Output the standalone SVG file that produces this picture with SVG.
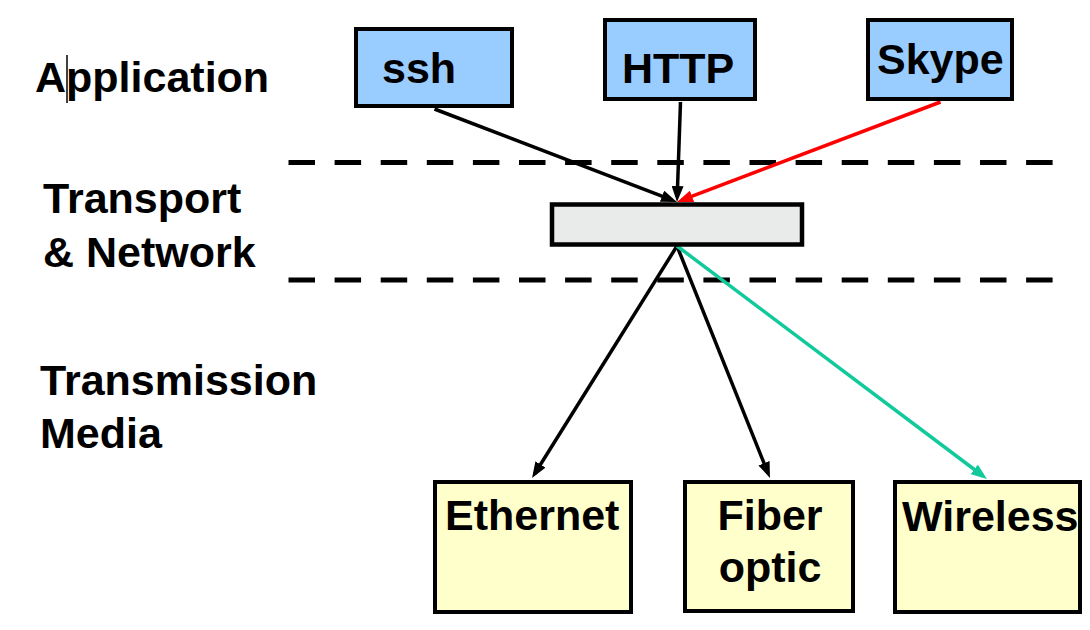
<svg xmlns="http://www.w3.org/2000/svg" width="1090" height="630" viewBox="0 0 1090 630">
  <style>
    .lbl { font-family: "Liberation Sans", Arial, sans-serif; font-weight: bold; font-size: 43px; fill: #000; }
    .app { fill: #99ccff; stroke: #000; stroke-width: 4; }
    .media { fill: #ffffcc; stroke: #000; stroke-width: 4; }
    .tn { fill: #e9eaea; stroke: #000; stroke-width: 4.5; }
    .dash { stroke: #000; stroke-width: 5; stroke-dasharray: 26.5 19.6; fill: none; }
    .conn { fill: none; stroke-width: 3.5; }
  </style>
  <defs>
    <marker id="ahBlack" markerUnits="userSpaceOnUse" markerWidth="16" markerHeight="12" viewBox="0 0 16 12" refX="11" refY="6" orient="auto">
      <path d="M0,0 L16,6 L0,12 z" fill="#000"/>
    </marker>
    <marker id="ahRed" markerUnits="userSpaceOnUse" markerWidth="16" markerHeight="12" viewBox="0 0 16 12" refX="11" refY="6" orient="auto">
      <path d="M0,0 L16,6 L0,12 z" fill="#ff0000"/>
    </marker>
    <marker id="ahGreen" markerUnits="userSpaceOnUse" markerWidth="16" markerHeight="12" viewBox="0 0 16 12" refX="11" refY="6" orient="auto">
      <path d="M0,0 L16,6 L0,12 z" fill="#11c99b"/>
    </marker>
  </defs>
  <rect width="1090" height="630" fill="#fff"/>

  <g id="layer-labels">
    <text class="lbl" x="35" y="92">Application</text>
    <line x1="67" y1="55" x2="67" y2="103" stroke="#000" stroke-width="1.5"/>
    <text class="lbl" x="43" y="213">Transport</text>
    <text class="lbl" x="43" y="267">&amp; Network</text>
    <text class="lbl" x="40" y="395">Transmission</text>
    <text class="lbl" x="40" y="448">Media</text>
  </g>

  <g id="separators">
    <line class="dash" x1="288.5" y1="162.5" x2="1055" y2="162.5"/>
    <line class="dash" x1="288.5" y1="280" x2="1055" y2="280"/>
  </g>

  <g id="connectors">
    <line class="conn" stroke="#000" x1="434.5" y1="109" x2="672.3" y2="200.2" marker-end="url(#ahBlack)"/>
    <line class="conn" stroke="#000" x1="680.5" y1="102" x2="677.2" y2="197" marker-end="url(#ahBlack)"/>
    <line class="conn" stroke="#ff0000" x1="940.5" y1="102" x2="681.7" y2="200.2" marker-end="url(#ahRed)"/>
    <line class="conn" stroke="#000" x1="677" y1="246" x2="534.7" y2="473.8" marker-end="url(#ahBlack)"/>
    <line class="conn" stroke="#000" x1="677" y1="246" x2="768.1" y2="473.4" marker-end="url(#ahBlack)"/>
    <line class="conn" stroke="#11c99b" x1="677" y1="246" x2="983" y2="476" marker-end="url(#ahGreen)"/>
  </g>

  <g id="node-ssh">
    <rect class="app" x="356" y="29" width="156" height="77"/>
    <text class="lbl" x="382" y="83">ssh</text>
  </g>
  <g id="node-http">
    <rect class="app" x="605" y="20" width="150" height="79"/>
    <text class="lbl" x="622" y="83">HTTP</text>
  </g>
  <g id="node-skype">
    <rect class="app" x="868" y="20" width="144" height="79"/>
    <text class="lbl" x="877" y="74">Skype</text>
  </g>
  <g id="node-transport">
    <rect class="tn" x="552" y="204.5" width="250" height="40"/>
  </g>
  <g id="node-ethernet">
    <rect class="media" x="435" y="482" width="196" height="130"/>
    <text class="lbl" x="445" y="530">Ethernet</text>
  </g>
  <g id="node-fiber">
    <rect class="media" x="685" y="482" width="168" height="129"/>
    <text class="lbl" x="770" y="530" text-anchor="middle">Fiber</text>
    <text class="lbl" x="770" y="582" text-anchor="middle">optic</text>
  </g>
  <g id="node-wireless">
    <rect class="media" x="895" y="482" width="185" height="130"/>
    <text class="lbl" x="902" y="531">Wireless</text>
  </g>
</svg>
